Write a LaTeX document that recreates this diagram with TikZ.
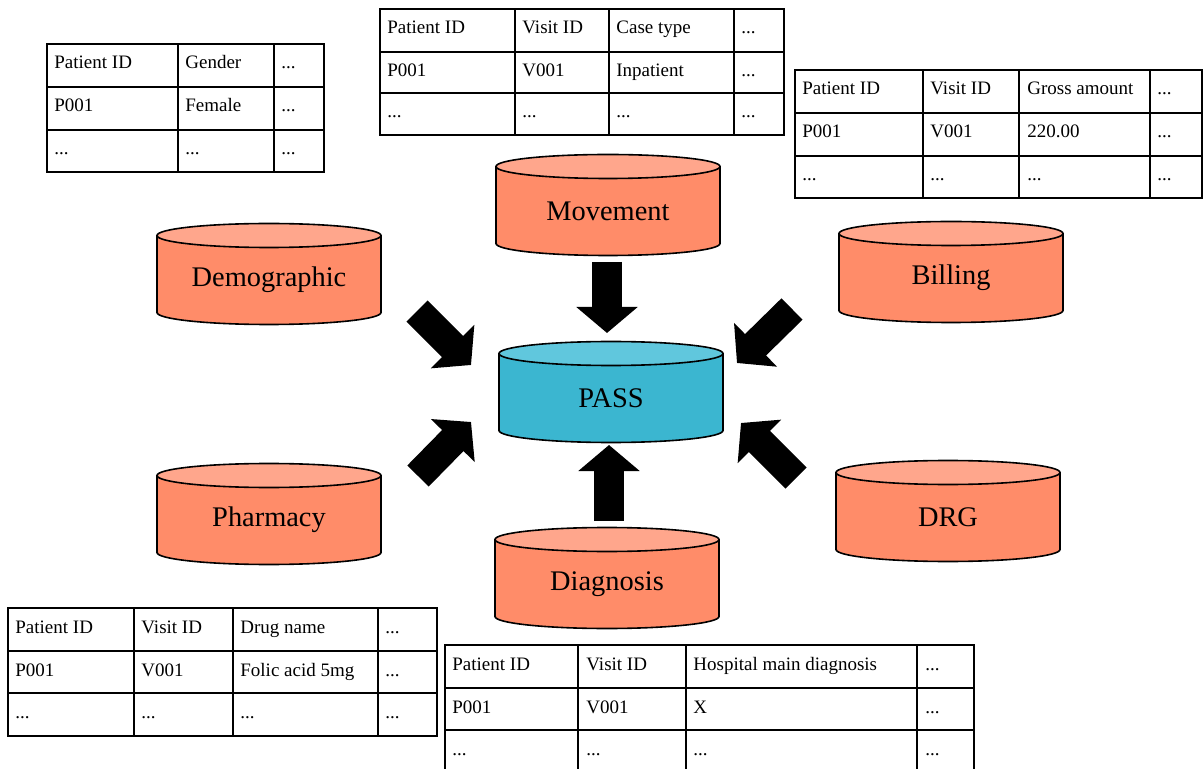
\documentclass[tikz,border=0pt]{standalone}
\usepackage{fontspec}
\setmainfont{Liberation Serif}
\usetikzlibrary{arrows.meta}
\definecolor{salbody}{RGB}{255,140,105}
\definecolor{saltop}{RGB}{255,166,140}
\definecolor{bluebody}{RGB}{59,182,208}
\definecolor{bluetop}{RGB}{96,199,221}
\tikzset{
  cylline/.style={draw=black, line width=0.8pt},
  cyltext/.style={inner sep=0pt, font=\fontsize{14.2}{16}\selectfont},
  tabline/.style={draw=black, line width=1pt},
  cell/.style={anchor=base west, inner sep=0pt, font=\fontsize{9.5}{11}\selectfont},
  blockarrow/.style={draw=black, line width=15pt, -{Triangle[length=13pt 0, width=30pt 0]}}
}
\newcommand{\dbcylinder}[6]{%
\begin{scope}[shift={(#2,#3)}]
  \fill[#4] (-112,-38.5) rectangle (112,38.5);
  \fill[#4] (0,38.5) ellipse[x radius=56pt, y radius=6pt];
  \begin{scope}
    \clip (-116,38.5) rectangle (116,58);
    \draw[cylline] (0,38.5) ellipse[x radius=56pt, y radius=6pt];
  \end{scope}
  \draw[cylline] (-112,-38.5) -- (-112,38.5) (112,-38.5) -- (112,38.5);
  \filldraw[cylline, fill=#5] (0,-38.5) ellipse[x radius=56pt, y radius=6pt];
  \node[cyltext] (#1) at (0,6) {#6};
\end{scope}}
\begin{document}
\begin{tikzpicture}[x=0.5pt, y=-0.5pt]
\fill[white] (0,0) rectangle (1203,769);
\useasboundingbox (0,0) rectangle (1203,769);
\clip (0,0) rectangle (1203,769);

% ---------- Demographic table
\draw[tabline] (47,44) rectangle (324,172);
\draw[tabline] (178,44) -- (178,172) (274,44) -- (274,172) (47,87) -- (324,87) (47,130) -- (324,130);
\node[cell] (d11) at (54,69) {Patient ID};
\node[cell] (d12) at (185,69) {Gender};
\node[cell] (d13) at (281,69) {...};
\node[cell] (d21) at (54,112) {P001};
\node[cell] (d22) at (185,112) {Female};
\node[cell] (d23) at (281,112) {...};
\node[cell] (d31) at (54,155) {...};
\node[cell] (d32) at (185,155) {...};
\node[cell] (d33) at (281,155) {...};

% ---------- Movement table
\draw[tabline] (380,9) rectangle (784,135);
\draw[tabline] (515,9) -- (515,135) (609,9) -- (609,135) (734,9) -- (734,135)
  (380,52) -- (784,52) (380,93) -- (784,93);
\node[cell] (m11) at (387,34) {Patient ID};
\node[cell] (m12) at (522,34) {Visit ID};
\node[cell] (m13) at (616,34) {Case type};
\node[cell] (m14) at (741,34) {...};
\node[cell] (m21) at (387,77) {P001};
\node[cell] (m22) at (522,77) {V001};
\node[cell] (m23) at (616,77) {Inpatient};
\node[cell] (m24) at (741,77) {...};
\node[cell] (m31) at (387,118) {...};
\node[cell] (m32) at (522,118) {...};
\node[cell] (m33) at (616,118) {...};
\node[cell] (m34) at (741,118) {...};

% ---------- Billing table
\draw[tabline] (795,70) rectangle (1202,198);
\draw[tabline] (923,70) -- (923,198) (1019,70) -- (1019,198) (1150,70) -- (1150,198)
  (795,113) -- (1202,113) (795,156) -- (1202,156);
\node[cell] (b11) at (802,95) {Patient ID};
\node[cell] (b12) at (930,95) {Visit ID};
\node[cell] (b13) at (1027,95) {Gross amount};
\node[cell] (b14) at (1157,95) {...};
\node[cell] (b21) at (802,138) {P001};
\node[cell] (b22) at (930,138) {V001};
\node[cell] (b23) at (1027,138) {220.00};
\node[cell] (b24) at (1157,138) {...};
\node[cell] (b31) at (802,181) {...};
\node[cell] (b32) at (930,181) {...};
\node[cell] (b33) at (1027,181) {...};
\node[cell] (b34) at (1157,181) {...};

% ---------- Pharmacy table
\draw[tabline] (8,608) rectangle (437,736);
\draw[tabline] (134,608) -- (134,736) (233,608) -- (233,736) (378,608) -- (378,736)
  (8,651) -- (437,651) (8,693) -- (437,693);
\node[cell] (p11) at (15,633) {Patient ID};
\node[cell] (p12) at (141,633) {Visit ID};
\node[cell] (p13) at (240,633) {Drug name};
\node[cell] (p14) at (385,633) {...};
\node[cell] (p21) at (15,676) {P001};
\node[cell] (p22) at (141,676) {V001};
\node[cell] (p23) at (240,676) {Folic acid 5mg};
\node[cell] (p24) at (385,676) {...};
\node[cell] (p31) at (15,718) {...};
\node[cell] (p32) at (141,718) {...};
\node[cell] (p33) at (240,718) {...};
\node[cell] (p34) at (385,718) {...};

% ---------- Diagnosis table (cut by the lower edge)
\draw[tabline] (445,645) rectangle (974,790);
\draw[tabline] (578,645) -- (578,790) (686,645) -- (686,790) (917,645) -- (917,790)
  (445,688) -- (974,688) (445,730) -- (974,730);
\node[cell] (g11) at (452,670) {Patient ID};
\node[cell] (g12) at (586,670) {Visit ID};
\node[cell] (g13) at (693,670) {Hospital main diagnosis};
\node[cell] (g14) at (925,670) {...};
\node[cell] (g21) at (452,713) {P001};
\node[cell] (g22) at (586,713) {V001};
\node[cell] (g23) at (693,713) {X};
\node[cell] (g24) at (925,713) {...};
\node[cell] (g31) at (452,755) {...};
\node[cell] (g32) at (586,755) {...};
\node[cell] (g33) at (693,755) {...};
\node[cell] (g34) at (925,755) {...};

% ---------- Cylinders
\dbcylinder{mov}{608}{205}{salbody}{saltop}{Movement}
\dbcylinder{dem}{269}{274}{salbody}{saltop}{Demographic}
\dbcylinder{bil}{951}{272}{salbody}{saltop}{Billing}
\dbcylinder{pass}{611}{392}{bluebody}{bluetop}{PASS}
\dbcylinder{pha}{269}{514}{salbody}{saltop}{Pharmacy}
\dbcylinder{drg}{948}{511}{salbody}{saltop}{DRG}
\dbcylinder{dia}{607}{578}{salbody}{saltop}{Diagnosis}

% ---------- Block arrows
\coordinate (movT) at (607,262);  \coordinate (movH) at (607,333);
\coordinate (diaT) at (609,521);  \coordinate (diaH) at (609,445);
\coordinate (demT) at (417,311);  \coordinate (demH) at (471,365);
\coordinate (bilT) at (792,309);  \coordinate (bilH) at (737,363);
\coordinate (phaT) at (418,476);  \coordinate (phaH) at (471,422);
\coordinate (drgT) at (796,478);  \coordinate (drgH) at (741,423);
\draw[blockarrow] (movT) -- (movH);
\draw[blockarrow] (diaT) -- (diaH);
\draw[blockarrow] (demT) -- (demH);
\draw[blockarrow] (bilT) -- (bilH);
\draw[blockarrow] (phaT) -- (phaH);
\draw[blockarrow] (drgT) -- (drgH);
\end{tikzpicture}
\end{document}
